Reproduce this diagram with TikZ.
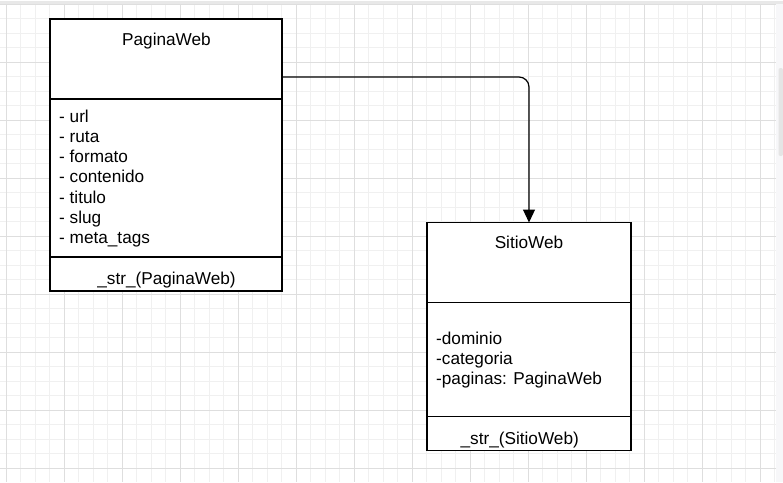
\documentclass[tikz,border=0pt]{standalone}
\usepackage{fontspec}
\setmainfont{Liberation Sans}
\usetikzlibrary{arrows.meta,positioning}

\tikzset{
  classpart/.style={draw, line width=1.3pt, fill=white, inner sep=0pt, outer sep=0pt, anchor=north west},
  umltext/.style={inner sep=0pt, font=\fontsize{17.2}{20.2}\selectfont},
  minorline/.style={draw=black!6, line width=0.8pt},
  majorline/.style={draw=black!13, line width=0.8pt}
}

\begin{document}
\begin{tikzpicture}[x=1pt, y=-1pt]
        \useasboundingbox[fill=white] (0,0) rectangle (783,482);

        % grid
        \foreach \k in {0,...,53} \draw[minorline] ({6.3+14.5*\k},4) -- ({6.3+14.5*\k},482);
        \foreach \k in {0,...,32} \draw[minorline] (0,{4.3+14.5*\k}) -- (776,{4.3+14.5*\k});
        \foreach \k in {0,4,...,52} \draw[majorline] ({6.3+14.5*\k},4) -- ({6.3+14.5*\k},482);
        \foreach \k in {0,4,...,32} \draw[majorline] (0,{4.3+14.5*\k}) -- (776,{4.3+14.5*\k});
        \fill[black!9] (0,0.5) rectangle (783,3.6);
        \fill[blue!20!black!3] (776,3.6) rectangle (783,482);
        \fill[black!10, rounded corners=2pt] (778.5,68) rectangle (783,156);

        % PaginaWeb
        \node[classpart, minimum width=232pt, minimum height=80pt] (pag-head) at (50,19) {};
        \node[classpart, minimum width=232pt, minimum height=158pt, below=0pt of pag-head] (pag-attr) {};
        \node[classpart, minimum width=232pt, minimum height=34pt, below=0pt of pag-attr] (pag-meth) {};
        \node[umltext, anchor=base] (pag-title) at (166.5,45.5) {PaginaWeb};
        \foreach \attr [count=\i] in {url, ruta, formato, contenido, titulo, slug, meta\_tags}
            \node[umltext, anchor=base west] (pag-a\i) at (59,{122.3+20.2*(\i-1)}) {- \attr};
        \node[umltext, anchor=base] (pag-m) at (166.5,284.3) {\_str\_(PaginaWeb)};

        % SitioWeb
        \node[classpart, minimum width=204pt, minimum height=80pt] (sit-head) at (427,222.5) {};
        \node[classpart, minimum width=204pt, minimum height=114pt, below=0pt of sit-head] (sit-attr) {};
        \node[classpart, minimum width=204pt, minimum height=34pt, below=0pt of sit-attr] (sit-meth) {};
        \node[umltext, anchor=base] (sit-title) at (529,248) {SitioWeb};
        \foreach \attr [count=\i] in {-dominio, -categoria, -paginas: PaginaWeb}
            \node[umltext, anchor=base west] (sit-a\i) at (436,{344+20.2*(\i-1)}) {\attr};
        \node[umltext, anchor=base] (sit-m) at (519.7,444.7) {\_str\_(SitioWeb)};

        \draw[line width=1.2pt, rounded corners=10pt, -{Triangle[width=12pt,length=13pt]}]
            ([yshift=-18pt]pag-head.east) -| (sit-head.north);
\end{tikzpicture}
\end{document}
